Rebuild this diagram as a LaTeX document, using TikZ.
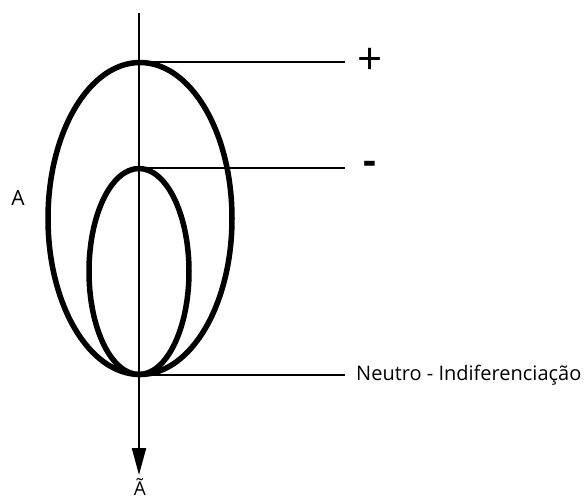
\documentclass[tikz,border=0pt]{standalone}
\usepackage{fontspec}
\setmainfont{Open Sans}
\usetikzlibrary{arrows.meta}
\begin{document}
\begin{tikzpicture}[x=1pt,y=-1pt,
  oval/.style={line width=5.5pt},
  guide/.style={line width=2.2pt},
  lbl/.style={inner sep=0pt}]
\useasboundingbox (0,0) rectangle (587,500);
\coordinate (top) at (139,13);
\coordinate (bot) at (139,475);
\draw[guide,-{Triangle[length=27pt,width=14pt]}] (top) -- (bot);
\draw[oval] (140,218.5) ellipse [x radius=92, y radius=156];
\draw[oval] (139,271.5) ellipse [x radius=50, y radius=103];
\coordinate (p1) at (139,62);
\coordinate (p2) at (139,168);
\coordinate (p3) at (139,375);
\coordinate (q1) at (345,62);
\coordinate (q2) at (345,168);
\coordinate (q3) at (345,375);
\draw[guide] (p1) -- (q1);
\draw[guide] (p2) -- (q2);
\draw[guide] (p3) -- (q3);
\node[lbl, font=\fontsize{44}{44}\selectfont, anchor=center] (plus) at (370.5,61) {+};
\node[lbl, font=\fontsize{40}{40}\selectfont\bfseries, anchor=center] (minus) at (369.5,168) {-};
\node[lbl, font=\fontsize{20}{22}\selectfont, anchor=west] (neutro) at (356,375) {Neutro - Indiferenciação};
\node[lbl, font=\fontsize{21}{22}\selectfont] (a) at (18,198) {A};
\node[lbl, font=\fontsize{19}{22}\selectfont, anchor=base] (at) at (140,495) {Ã};
\end{tikzpicture}
\end{document}
